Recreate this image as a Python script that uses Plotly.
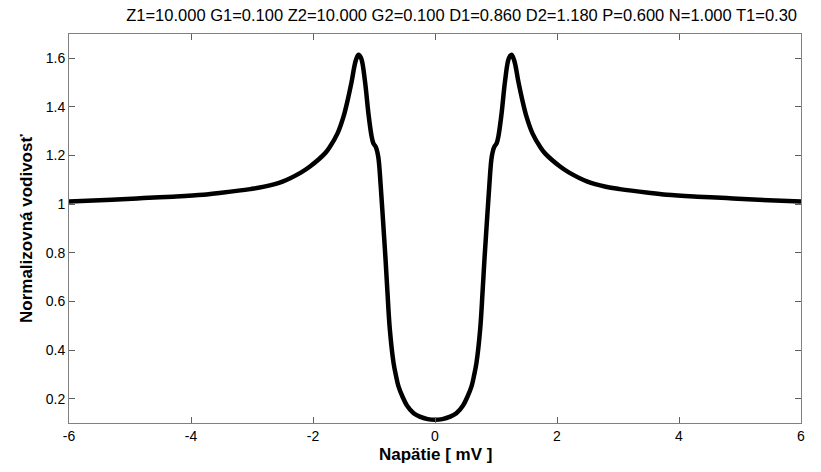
import plotly.graph_objects as go

# Voltage (mV) and normalized conductance
voltage = [-6.0, -5.3, -4.78, -4.3, -3.80, -3.5, -3.03, -2.8, -2.50, -2.2, -2.05, -1.8, -1.72,
           -1.60, -1.50, -1.43, -1.37, -1.30, -1.255, -1.21, -1.15, -1.09, -1.04, -1.01,
           -0.97, -0.93, -0.89, -0.85, -0.81, -0.78, -0.74, -0.68, -0.64, -0.60, -0.53,
           -0.46, -0.35, -0.25, -0.12, 0.0,
           0.12, 0.25, 0.35, 0.46, 0.53, 0.60, 0.64, 0.68, 0.74, 0.78, 0.81, 0.85, 0.89,
           0.93, 0.97, 1.01, 1.04, 1.09, 1.15, 1.21, 1.255, 1.30, 1.37, 1.43, 1.50, 1.60,
           1.72, 1.8, 2.05, 2.2, 2.50, 2.8, 3.03, 3.5, 3.80, 4.3, 4.78, 5.3, 6.0]
conductance = [1.011, 1.018, 1.025, 1.031, 1.039, 1.047, 1.062, 1.072, 1.093, 1.13, 1.155,
               1.21, 1.237, 1.29, 1.36, 1.43, 1.50, 1.59, 1.615, 1.60, 1.51, 1.37, 1.28,
               1.25, 1.235, 1.195, 1.075, 0.925, 0.77, 0.64, 0.484, 0.348, 0.295, 0.252,
               0.207, 0.172, 0.140, 0.126, 0.116, 0.113,
               0.116, 0.126, 0.140, 0.172, 0.207, 0.252, 0.295, 0.348, 0.484, 0.64, 0.77,
               0.925, 1.075, 1.195, 1.235, 1.25, 1.28, 1.37, 1.51, 1.60, 1.615, 1.59, 1.50,
               1.43, 1.36, 1.29, 1.237, 1.21, 1.155, 1.13, 1.093, 1.072, 1.062, 1.047,
               1.039, 1.031, 1.025, 1.018, 1.011]

x_ticks = [-6, -4, -2, 0, 2, 4, 6]
y_ticks = [0.2, 0.4, 0.6, 0.8, 1.0, 1.2, 1.4, 1.6]
y_tick_text = ["0.2", "0.4", "0.6", "0.8", "1", "1.2", "1.4", "1.6"]

title_text = "Z1=10.000 G1=0.100 Z2=10.000 G2=0.100 D1=0.860 D2=1.180 P=0.600 N=1.000 T1=0.30"
x_label = "Napätie [ mV ]"
y_label = "Normalizovná vodivosť"

FONT = "Liberation Sans, Arial, Helvetica, sans-serif"

fig = go.Figure()
fig.add_trace(go.Scatter(x=voltage, y=conductance, mode="lines",
                         line=dict(color="black", width=4.5, shape="spline", smoothing=1.0),
                         hoverinfo="skip", showlegend=False))

axis_common = dict(showline=True, linecolor="#808080", linewidth=1, mirror="ticks",
                   ticks="inside", ticklen=6, tickcolor="#606060", tickwidth=1,
                   showgrid=False, zeroline=False,
                   tickfont=dict(family=FONT, size=14, color="black"))

fig.update_xaxes(range=[-6, 6], tickvals=x_ticks, ticktext=[str(v) for v in x_ticks], **axis_common)
fig.update_yaxes(range=[0.1, 1.7], tickvals=y_ticks, ticktext=y_tick_text, **axis_common)

fig.update_layout(
    width=821, height=472,
    margin=dict(l=69, r=20, t=34, b=49),
    paper_bgcolor="white", plot_bgcolor="white",
    font=dict(family=FONT, color="black"),
    title=dict(text=title_text, font=dict(family=FONT, size=16.5, color="black"),
               x=797 / 821, xref="container", xanchor="right",
               y=1 - 15 / 472, yref="container", yanchor="middle"),
    annotations=[
        dict(text="<b>" + x_label + "</b>", xref="paper", yref="paper",
             x=0.5, y=(423 - 455) / 389, xanchor="center", yanchor="middle",
             showarrow=False, font=dict(family=FONT, size=17, color="black")),
        dict(text="<b>" + y_label + "</b>", xref="paper", yref="paper",
             x=(27 - 69) / 732, y=(423 - 229) / 389, xanchor="center", yanchor="middle",
             textangle=-90, showarrow=False, font=dict(family=FONT, size=17, color="black")),
    ],
)

fig.write_html("out.html")
